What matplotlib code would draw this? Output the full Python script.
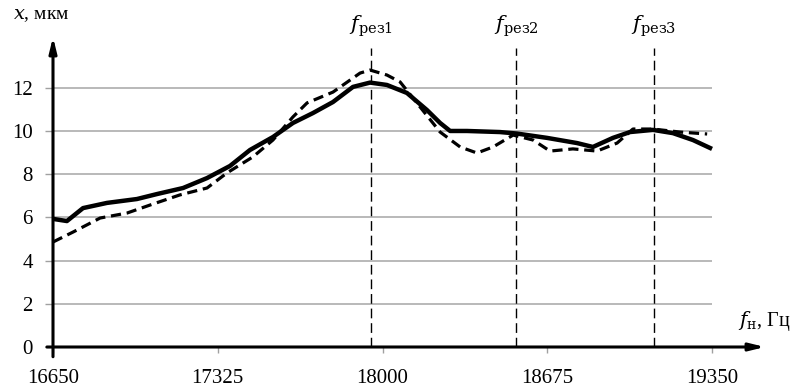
import matplotlib
matplotlib.use("Agg")
import matplotlib.pyplot as plt

plt.rcParams["font.family"] = ["Liberation Serif", "DejaVu Serif"]
plt.rcParams["mathtext.fontset"] = "custom"
plt.rcParams["mathtext.rm"] = "DejaVu Serif"
plt.rcParams["mathtext.it"] = "DejaVu Serif:italic"

# Amplitude vs. excitation frequency, two measurement series
freq_solid = [16650, 16707, 16773, 16871, 16994, 17076, 17183, 17281, 17375, 17457,
              17551, 17633, 17715, 17797, 17879, 17949, 18018, 18100, 18182, 18236,
              18277, 18346, 18481, 18551, 18674, 18797, 18862, 18944, 19014, 19108,
              19190, 19272, 19350]
amp_solid = [5.93, 5.83, 6.43, 6.67, 6.85, 7.08, 7.36, 7.82, 8.38, 9.12,
             9.72, 10.37, 10.83, 11.34, 12.04, 12.24, 12.13, 11.76, 10.97, 10.37,
             10.0, 10.0, 9.95, 9.88, 9.68, 9.44, 9.26, 9.68, 9.95, 10.05,
             9.9, 9.58, 9.17]

freq_dashed = [16650, 16732, 16843, 16953, 17060, 17170, 17281, 17363, 17469, 17551,
               17633, 17691, 17797, 17908, 17949, 18018, 18072, 18154, 18236, 18318,
               18387, 18453, 18535, 18617, 18686, 18780, 18879, 18961, 19026, 19108,
               19219, 19330]
amp_dashed = [4.86, 5.32, 5.97, 6.2, 6.62, 7.04, 7.36, 8.06, 8.8, 9.58,
              10.65, 11.3, 11.8, 12.68, 12.82, 12.59, 12.27, 11.11, 9.95, 9.26,
              8.98, 9.26, 9.81, 9.58, 9.07, 9.17, 9.07, 9.44, 10.09, 10.09,
              9.95, 9.86]

# Resonance frequencies
res_freqs = [17953, 18547, 19112]
res_labels = [r"$f_{\mathrm{рез1}}$", r"$f_{\mathrm{рез2}}$", r"$f_{\mathrm{рез3}}$"]

x_ticks = [16650, 17325, 18000, 18675, 19350]
y_ticks = [0, 2, 4, 6, 8, 10, 12]

fig = plt.figure(figsize=(7.98, 3.92), dpi=100)
ax = fig.add_axes([53 / 798, 45 / 392, 712 / 798, 310 / 392])
ax.set_xlim(16650, 19567)
ax.set_ylim(0, 14.35)
for s in ax.spines.values():
    s.set_visible(False)

# horizontal grid
ax.hlines(y_ticks[1:], x_ticks[0], x_ticks[-1], colors="#a6a6a6", lw=1.1, zorder=1)

# resonance markers
for f, lab in zip(res_freqs, res_labels):
    ax.vlines(f, 0, 13.84, colors="black", lw=1.0, linestyles=(0, (7, 3.5)), zorder=2)
    ax.text(f, 14.85, lab, ha="center", va="center", fontsize=15, clip_on=False)

# curves
ax.plot(freq_solid, amp_solid, color="black", lw=3.2, solid_joinstyle="round",
        solid_capstyle="butt", zorder=4)
ax.plot(freq_dashed, amp_dashed, color="black", lw=2.3, linestyle=(0, (3.2, 1.8)),
        dash_joinstyle="round", zorder=3)

# axes with arrows
arrow = dict(arrowstyle="-|>,head_length=0.9,head_width=0.22", lw=2.2, color="black",
             shrinkA=0, shrinkB=0)
ax.annotate("", xy=(19567, 0), xytext=(16650 - 25, 0), arrowprops=arrow,
            annotation_clip=False, zorder=5)
ax.annotate("", xy=(16650, 14.35), xytext=(16650, -0.45), arrowprops=arrow,
            annotation_clip=False, zorder=5)

ax.set_xticks(x_ticks)
ax.set_xticklabels([str(v) for v in x_ticks])
ax.set_yticks(y_ticks)
ax.set_yticklabels([str(v) for v in y_ticks])
ax.tick_params(axis="x", length=4, width=1, color="#a0a0a0", pad=12, labelsize=15)
ax.tick_params(axis="y", length=6, width=1, color="#a0a0a0", pad=8.5, labelsize=15)

fig.text(13 / 798, 1 - 16 / 392, r"$x$, мкм", ha="left", va="center", fontsize=14)
fig.text(738 / 798, 1 - 321 / 392, r"$f_{\mathrm{н}}$, Гц", ha="left", va="center",
         fontsize=14.5)

fig.savefig("out.png", dpi=100)
